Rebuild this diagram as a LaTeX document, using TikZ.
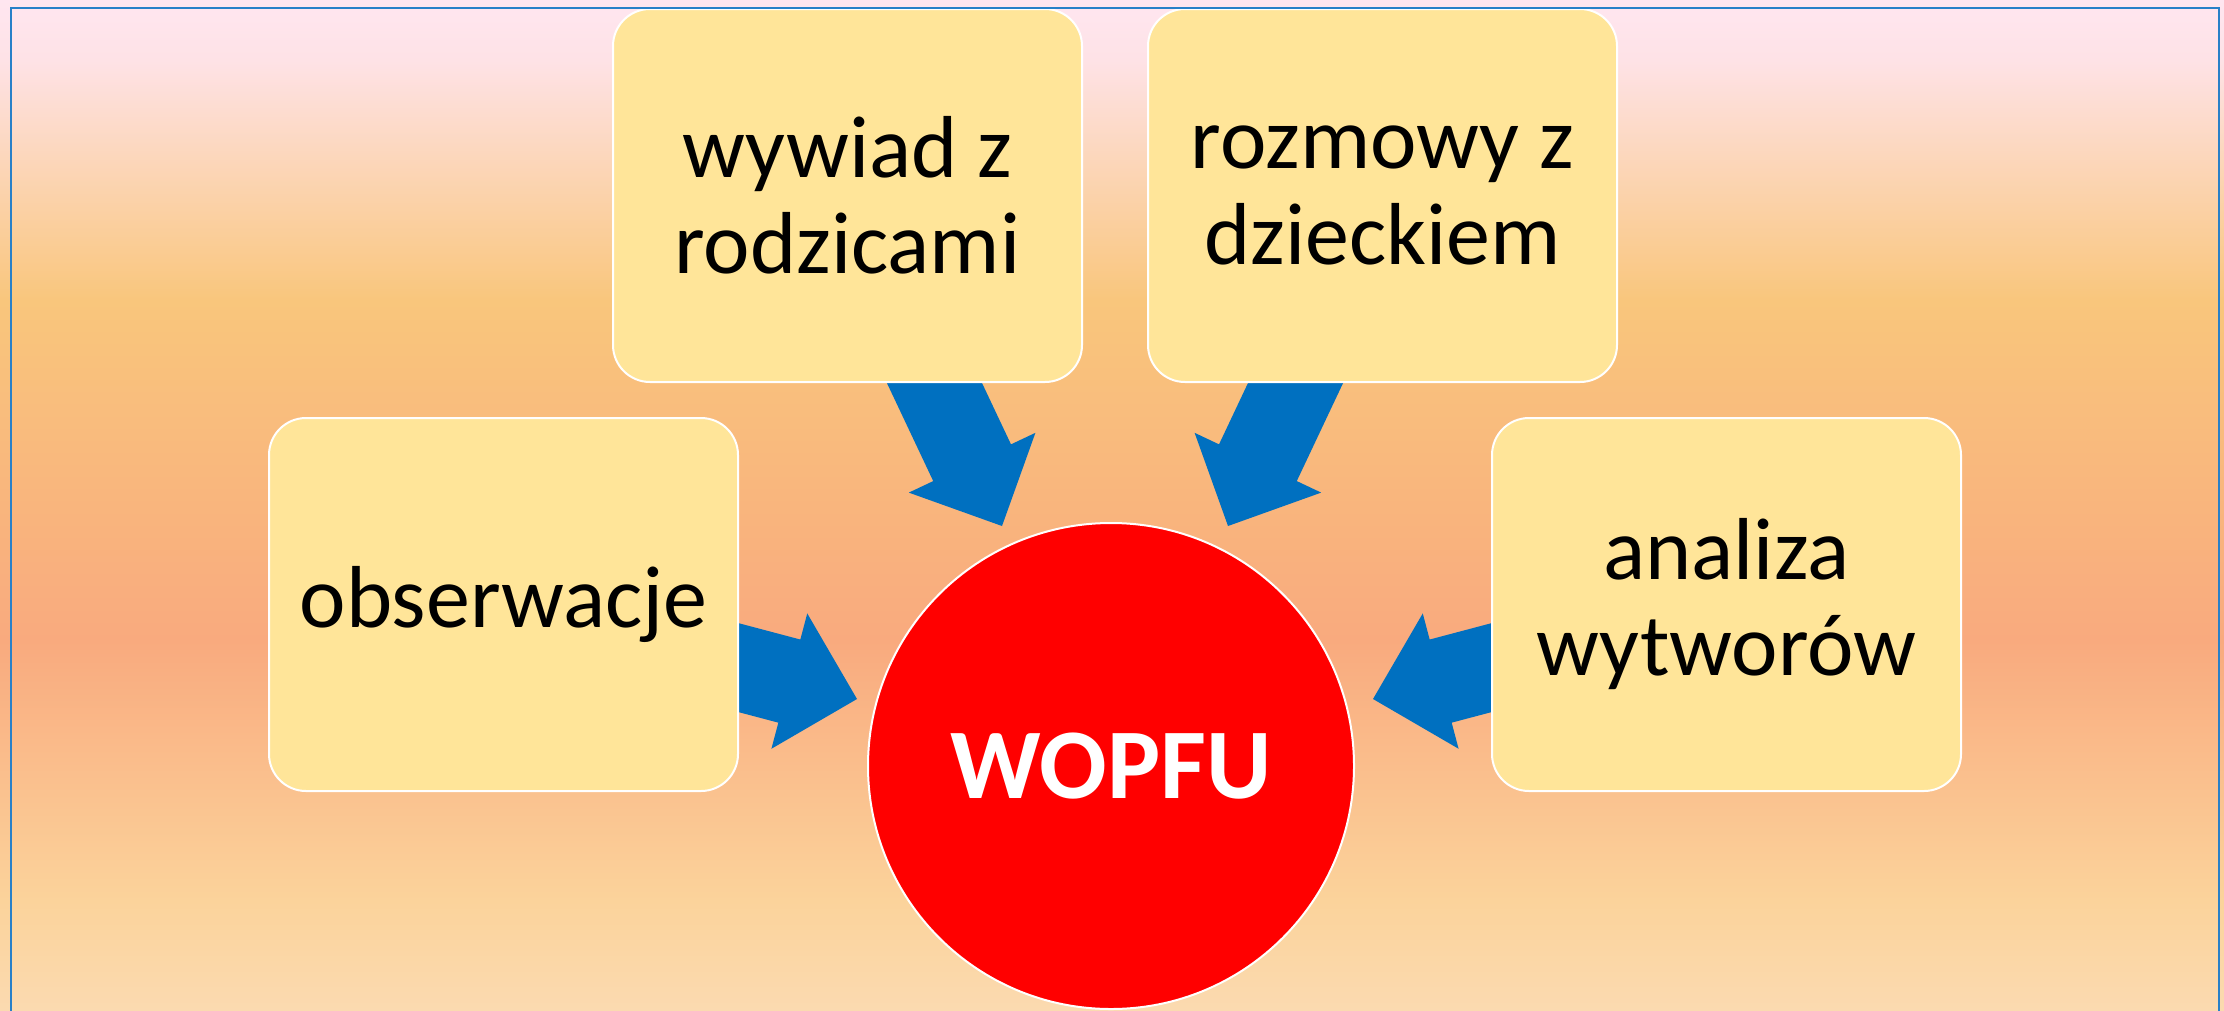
\documentclass[tikz,border=0pt]{standalone}
\usepackage{fontspec}
\setmainfont{Carlito}
\usetikzlibrary{calc}
\definecolor{boxfill}{RGB}{255,229,153}
\definecolor{arrowblue}{RGB}{0,112,192}
\definecolor{framecol}{RGB}{40,128,200}
\definecolor{bgA}{RGB}{255,230,240}
\definecolor{bgA2}{RGB}{254,226,230}
\definecolor{bgB}{RGB}{249,198,124}
\definecolor{bgC}{RGB}{249,170,126}
\definecolor{bgD}{RGB}{251,211,155}
\definecolor{bgE}{RGB}{251,218,176}
\pgfdeclareverticalshading{bgshade}{100bp}{color(0bp)=(bgE); color(25bp)=(bgE); color(30.4bp)=(bgD); color(43.3bp)=(bgC); color(60.1bp)=(bgB); color(72bp)=(bgA2); color(75bp)=(bgA); color(100bp)=(bgA)}
\tikzset{
  boxnode/.style={draw=white, line width=2pt, fill=boxfill, rounded corners=37pt,
    minimum width=469pt, minimum height=373pt, inner sep=0pt, align=center,
    font=\fontsize{88}{96}\selectfont, text=black},
  hub/.style={circle, draw=white, line width=2pt, fill=red, minimum size=486pt,
    inner sep=0pt, font=\fontsize{100}{110}\selectfont\bfseries, text=white},
  blockarrow/.style={fill=arrowblue},
  framestyle/.style={draw=framecol, line width=2.5pt}
}
\newcommand\blockarr[2]{%
  \path ($(#2)!70pt!(#1)$) coordinate (arrh);
  \fill[blockarrow] ($(#1)!43pt!90:(#2)$) -- ($(arrh)!43pt!90:(#2)$) -- ($(arrh)!70pt!90:(#2)$) -- (#2)
    -- ($(arrh)!70pt!-90:(#2)$) -- ($(arrh)!43pt!-90:(#2)$) -- ($(#1)!43pt!-90:(#2)$) -- cycle;}
\begin{document}
\begin{tikzpicture}[x=1pt,y=-1pt]
\useasboundingbox (0,0) rectangle (2224,1010);
\shade[shading=bgshade] (0,0) rectangle (2224,1010);
% arrow end points
\coordinate (s1) at (908,327);  \coordinate (t1) at (1002,526);
\coordinate (s2) at (1322,327); \coordinate (t2) at (1228,526);
\coordinate (s3) at (644,642.6); \coordinate (t3) at (857,699);
\coordinate (s4) at (1586,642.6); \coordinate (t4) at (1373,699);
\blockarr{s1}{t1}
\blockarr{s2}{t2}
\blockarr{s3}{t3}
\blockarr{s4}{t4}
% boxes
\node[boxnode] (wyw) at (847.5,195.5) {wywiad z\\rodzicami};
\node[boxnode] (roz) at (1382.5,195.5) {rozmowy z\\dzieckiem};
\node[boxnode] (obs) at (503.5,604.5) {obserwacje};
\node[boxnode] (ana) at (1726.5,604.5) {analiza\\wytworów};
\node[hub] (hub) at (1111,766) {WOPFU};
% frame
\draw[framestyle] (11,8) rectangle (2219,1040);
\end{tikzpicture}
\end{document}
